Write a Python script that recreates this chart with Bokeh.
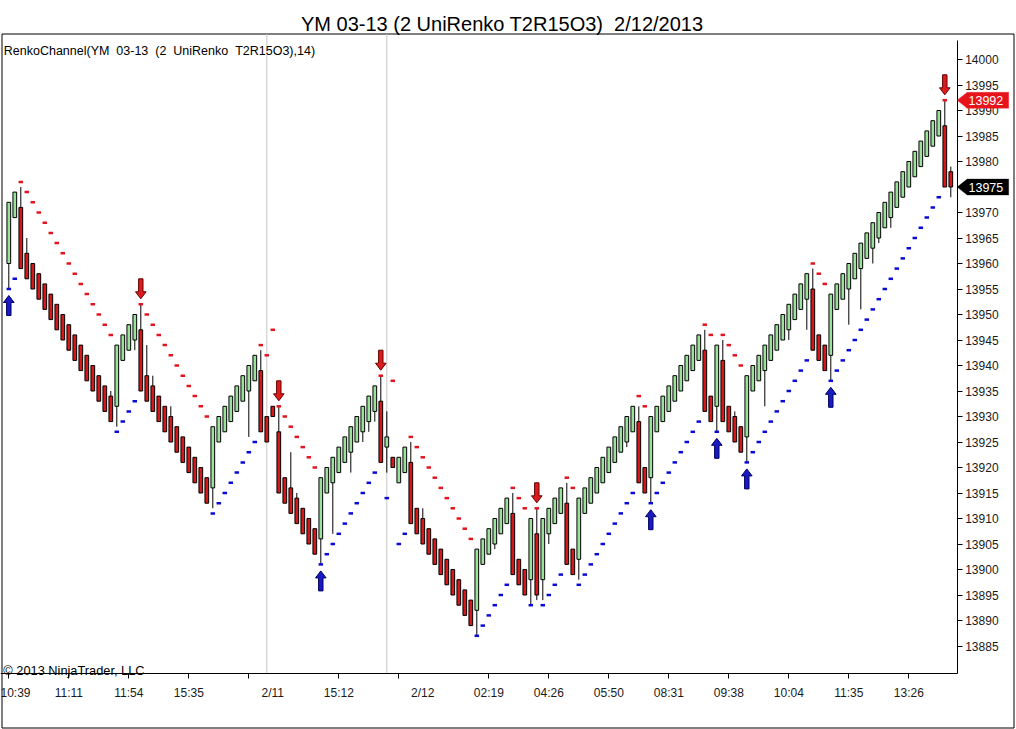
from bokeh.plotting import figure
from bokeh.models import Range1d, FixedTicker, Label, PolyAnnotation
from bokeh.embed import file_html
from bokeh.resources import INLINE

# ---------------- data ----------------
title_text = "YM 03-13 (2 UniRenko T2R15O3)\u00a0\u00a02/12/2013"
indicator_text = "RenkoChannel(YM\u00a0\u00a003-13\u00a0\u00a0(2\u00a0\u00a0UniRenko\u00a0\u00a0T2R15O3),14)"
copyright_text = "\u00a9 2013 NinjaTrader, LLC"

bar_open = [
    13960, 13969, 13971, 13962, 13960, 13958, 13956, 13954, 13952, 13950,
    13948, 13946, 13944, 13942, 13940, 13938, 13936, 13934, 13932, 13941,
    13943, 13945, 13947, 13938, 13936, 13934, 13932, 13930, 13928, 13926,
    13924, 13922, 13920, 13918, 13916, 13925, 13927, 13929, 13931, 13933,
    13935, 13937, 13939, 13930, 13932, 13927, 13918, 13916, 13914, 13912,
    13910, 13908, 13906, 13915, 13917, 13919, 13921, 13923, 13925, 13927,
    13929, 13931, 13933, 13924, 13922, 13917, 13919, 13921, 13912, 13910,
    13908, 13906, 13904, 13902, 13900, 13898, 13896, 13894, 13892, 13901,
    13903, 13905, 13907, 13909, 13911, 13902, 13900, 13898, 13907, 13898,
    13907, 13909, 13911, 13913, 13904, 13902, 13911, 13913, 13915, 13917,
    13919, 13921, 13923, 13925, 13927, 13929, 13920, 13918, 13927, 13929,
    13931, 13933, 13935, 13937, 13939, 13941, 13943, 13934, 13932, 13941,
    13932, 13930, 13928, 13926, 13935, 13937, 13939, 13941, 13943, 13945,
    13947, 13949, 13951, 13953, 13955, 13946, 13944, 13942, 13951, 13953,
    13955, 13957, 13959, 13961, 13963, 13965, 13967, 13969, 13971, 13973,
    13975, 13977, 13979, 13981, 13983, 13985, 13987, 13978,
]
bar_close = [
    13972, 13974, 13959, 13957, 13955, 13953, 13951, 13949, 13947, 13945,
    13943, 13941, 13939, 13937, 13935, 13933, 13931, 13929, 13944, 13946,
    13948, 13950, 13935, 13933, 13931, 13929, 13927, 13925, 13923, 13921,
    13919, 13917, 13915, 13913, 13928, 13930, 13932, 13934, 13936, 13938,
    13940, 13942, 13927, 13925, 13930, 13915, 13913, 13911, 13909, 13907,
    13905, 13903, 13918, 13920, 13922, 13924, 13926, 13928, 13930, 13932,
    13934, 13936, 13921, 13926, 13920, 13922, 13924, 13909, 13907, 13905,
    13903, 13901, 13899, 13897, 13895, 13893, 13891, 13889, 13904, 13906,
    13908, 13910, 13912, 13914, 13899, 13897, 13895, 13910, 13895, 13910,
    13912, 13914, 13916, 13901, 13899, 13914, 13916, 13918, 13920, 13922,
    13924, 13926, 13928, 13930, 13932, 13917, 13915, 13930, 13932, 13934,
    13936, 13938, 13940, 13942, 13944, 13946, 13931, 13929, 13944, 13929,
    13927, 13925, 13923, 13938, 13940, 13942, 13944, 13946, 13948, 13950,
    13952, 13954, 13956, 13958, 13943, 13941, 13939, 13954, 13956, 13958,
    13960, 13962, 13964, 13966, 13968, 13970, 13972, 13974, 13976, 13978,
    13980, 13982, 13984, 13986, 13988, 13990, 13975, 13975,
]
bar_high = [
    13972, 13974, 13975, 13965, 13960, 13958, 13956, 13954, 13952, 13950,
    13948, 13946, 13944, 13942, 13940, 13938, 13936, 13935, 13944, 13946,
    13948, 13950, 13952, 13944, 13938, 13934, 13932, 13932, 13928, 13926,
    13924, 13922, 13920, 13918, 13928, 13930, 13932, 13934, 13936, 13938,
    13940, 13942, 13943, 13930, 13932, 13932, 13918, 13923, 13915, 13912,
    13910, 13908, 13918, 13920, 13922, 13924, 13926, 13928, 13930, 13932,
    13934, 13936, 13938, 13931, 13922, 13922, 13924, 13925, 13912, 13912,
    13908, 13906, 13904, 13902, 13900, 13898, 13896, 13894, 13904, 13906,
    13908, 13910, 13912, 13914, 13915, 13902, 13900, 13910, 13912, 13910,
    13912, 13914, 13916, 13917, 13904, 13914, 13916, 13918, 13920, 13922,
    13924, 13926, 13928, 13930, 13932, 13932, 13920, 13930, 13932, 13934,
    13936, 13938, 13940, 13942, 13944, 13946, 13947, 13934, 13944, 13945,
    13932, 13931, 13928, 13938, 13940, 13942, 13944, 13946, 13948, 13950,
    13952, 13954, 13956, 13958, 13959, 13946, 13944, 13954, 13956, 13958,
    13960, 13962, 13964, 13966, 13968, 13970, 13972, 13974, 13976, 13978,
    13980, 13982, 13984, 13986, 13988, 13990, 13992, 13979,
]
bar_low = [
    13955, 13969, 13959, 13957, 13955, 13953, 13951, 13949, 13947, 13945,
    13943, 13941, 13939, 13937, 13935, 13933, 13931, 13929, 13928, 13941,
    13943, 13943, 13935, 13933, 13931, 13929, 13927, 13925, 13923, 13921,
    13919, 13917, 13915, 13913, 13912, 13925, 13927, 13929, 13931, 13933,
    13926, 13937, 13927, 13925, 13930, 13915, 13913, 13911, 13909, 13907,
    13905, 13903, 13901, 13915, 13907, 13919, 13921, 13919, 13925, 13925,
    13927, 13929, 13921, 13919, 13920, 13917, 13919, 13909, 13907, 13905,
    13903, 13901, 13899, 13897, 13895, 13893, 13891, 13889, 13887, 13901,
    13903, 13904, 13907, 13909, 13899, 13897, 13895, 13893, 13894, 13894,
    13905, 13909, 13911, 13901, 13899, 13898, 13911, 13913, 13915, 13917,
    13919, 13921, 13923, 13924, 13927, 13917, 13915, 13913, 13927, 13929,
    13931, 13933, 13935, 13937, 13939, 13941, 13931, 13929, 13927, 13929,
    13927, 13925, 13923, 13921, 13935, 13937, 13932, 13941, 13943, 13945,
    13945, 13949, 13951, 13947, 13943, 13941, 13939, 13937, 13951, 13953,
    13948, 13957, 13951, 13961, 13960, 13964, 13967, 13967, 13971, 13973,
    13975, 13977, 13979, 13981, 13983, 13985, 13975, 13973,
]
# RenkoChannel dots: value and side (U = upper/red, L = lower/blue), bars 1..157
channel_value = [
    13955, 13957, 13976, 13974, 13972, 13970, 13968, 13966, 13964, 13962,
    13960, 13958, 13956, 13954, 13952, 13950, 13948, 13946, 13927, 13929,
    13931, 13933, 13952, 13950, 13948, 13946, 13944, 13942, 13940, 13938,
    13936, 13934, 13932, 13930, 13911, 13913, 13915, 13917, 13919, 13921,
    13923, 13925, 13944, 13942, 13947, 13932, 13930, 13928, 13926, 13924,
    13922, 13920, 13901, 13903, 13905, 13907, 13909, 13911, 13913, 13915,
    13917, 13919, 13938, 13914, 13937, 13905, 13907, 13926, 13924, 13922,
    13920, 13918, 13916, 13914, 13912, 13910, 13908, 13906, 13887, 13889,
    13891, 13893, 13895, 13897, 13916, 13914, 13912, 13893, 13912, 13893,
    13895, 13897, 13899, 13918, 13916, 13897, 13899, 13901, 13903, 13905,
    13907, 13909, 13911, 13913, 13915, 13934, 13932, 13913, 13915, 13917,
    13919, 13921, 13923, 13925, 13927, 13929, 13948, 13946, 13927, 13946,
    13944, 13942, 13940, 13921, 13923, 13925, 13927, 13929, 13931, 13933,
    13935, 13937, 13939, 13941, 13960, 13958, 13956, 13937, 13939, 13941,
    13943, 13945, 13947, 13949, 13951, 13953, 13955, 13957, 13959, 13961,
    13963, 13965, 13967, 13969, 13971, 13973, 13992,
]
channel_side = [
    "L", "L", "U", "U", "U", "U", "U", "U", "U", "U",
    "U", "U", "U", "U", "U", "U", "U", "U", "L", "L",
    "L", "L", "U", "U", "U", "U", "U", "U", "U", "U",
    "U", "U", "U", "U", "L", "L", "L", "L", "L", "L",
    "L", "L", "U", "U", "U", "U", "U", "U", "U", "U",
    "U", "U", "L", "L", "L", "L", "L", "L", "L", "L",
    "L", "L", "U", "L", "U", "L", "L", "U", "U", "U",
    "U", "U", "U", "U", "U", "U", "U", "U", "L", "L",
    "L", "L", "L", "L", "U", "U", "U", "L", "U", "L",
    "L", "L", "L", "U", "U", "L", "L", "L", "L", "L",
    "L", "L", "L", "L", "L", "U", "U", "L", "L", "L",
    "L", "L", "L", "L", "L", "L", "U", "U", "L", "U",
    "U", "U", "U", "L", "L", "L", "L", "L", "L", "L",
    "L", "L", "L", "L", "U", "U", "U", "L", "L", "L",
    "L", "L", "L", "L", "L", "L", "L", "L", "L", "L",
    "L", "L", "L", "L", "L", "L", "U",
]
arrow_up_bars = [1, 53, 108, 119, 124, 138]
arrow_down_bars = [23, 46, 63, 89, 157]
session_break_bars = [44, 64]
tick_mark_bars = [1, 11, 21, 31, 41, 56, 66, 81, 91, 101, 111, 121, 131, 141, 151]
axis_label_bars = [1, 11, 21, 31, 45, 56, 70, 81, 91, 101, 111, 121, 131, 141, 151]
axis_labels = ["10:39", "11:11", "11:54", "15:35", "2/11", "15:12", "2/12", "02:19",
               "04:26", "05:50", "08:31", "09:38", "10:04", "11:35", "13:26"]
price_ticks = [13885, 13890, 13895, 13900, 13905, 13910, 13915, 13920, 13925, 13930,
               13935, 13940, 13945, 13950, 13955, 13960, 13965, 13970, 13975, 13980,
               13985, 13990, 13995, 14000]
marker_prices = [13992, 13975]
marker_colors = ["#e8141c", "#000000"]

# ---------------- layout (pixels) ----------------
FONT = "Liberation Sans"
W, H = 1016, 729
BAR_PX = 6.0                       # pixels per bar
PT_PX = 5.1                        # pixels per price point
X0 = 1 - 8.3 / BAR_PX              # left edge of the canvas, in bars
X1 = X0 + W / BAR_PX
Y1 = 14000 + 59 / PT_PX            # top edge of the canvas, in points
Y0 = Y1 - H / PT_PX
bpx, ppx = 1.0 / BAR_PX, 1.0 / PT_PX


def cx(px):  # canvas x pixel -> bars
    return X0 + px * bpx


def cy(px):  # canvas y pixel -> points
    return Y1 - px * ppx


AXIS_X = cx(956.7)        # price axis position
AXIS_Y = cy(673.0)        # time axis position
AXIS_TOP = cy(40.0)

UP_FILL, DN_FILL = "#9ae29a", "#d81818"
UPPER_DOT, LOWER_DOT = "#e3141e", "#0a0ad6"

p = figure(width=W, height=H, x_range=Range1d(X0, X1), y_range=Range1d(Y0, Y1),
           output_backend="svg", toolbar_location=None, title=None,
           y_axis_location="right",
           min_border_left=0, min_border_right=0, min_border_top=0, min_border_bottom=0,
           background_fill_color="white", border_fill_color="white",
           outline_line_color=None)
p.xgrid.visible = False
p.ygrid.visible = False

# outer chart border and session separators
bl, br, bt, bb = cx(1.5), cx(1013.5), cy(33.5), cy(727.5)
p.multi_line(xs=[[bl, br, br, bl, bl]], ys=[[bt, bt, bb, bb, bt]],
             line_color="black", line_width=1)
p.segment(x0=session_break_bars, y0=[bt] * len(session_break_bars),
          x1=session_break_bars, y1=[AXIS_Y] * len(session_break_bars),
          line_color="#c6c6c6", line_width=1)

xs = list(range(1, len(bar_open) + 1))
tops = [max(o, c) for o, c in zip(bar_open, bar_close)]
bots = [min(o, c) for o, c in zip(bar_open, bar_close)]
fills = [UP_FILL if c > o else DN_FILL for o, c in zip(bar_open, bar_close)]

p.segment(x0=xs, y0=bar_low, x1=xs, y1=bar_high, line_color="black", line_width=1)
p.vbar(x=xs, width=0.62, top=tops, bottom=bots, fill_color=fills,
       line_color="black", line_width=1)

chx = list(range(1, len(channel_value) + 1))
p.rect(x=chx, y=channel_value, width=4.5, height=2.5,
       width_units="screen", height_units="screen",
       fill_color=[UPPER_DOT if s == "U" else LOWER_DOT for s in channel_side],
       line_color=None)

# signal arrows (shape in pixels, placed at the channel dot of the bar)
shape = [(0, 0), (5.3, 7), (2.2, 7), (2.2, 20), (-2.2, 20), (-2.2, 7), (-5.3, 7)]
ax, ay = [], []
for b in arrow_up_bars:
    tip = channel_value[b - 1] - 6.5 * ppx
    ax.append([b + dx * bpx for dx, dy in shape])
    ay.append([tip - dy * ppx for dx, dy in shape])
p.patches(ax, ay, fill_color="#1a1ac4", line_color="#00005c", line_width=1)
ax, ay = [], []
for b in arrow_down_bars:
    tip = channel_value[b - 1] + 5.5 * ppx
    ax.append([b + dx * bpx for dx, dy in shape])
    ay.append([tip + dy * ppx for dx, dy in shape])
p.patches(ax, ay, fill_color="#dc1c1c", line_color="#640000", line_width=1)

# price axis
yax = p.yaxis[0]
yax.fixed_location = AXIS_X
yax.bounds = (AXIS_Y, AXIS_TOP)
yax.ticker = FixedTicker(ticks=price_ticks)
yax.major_tick_in = 0
yax.major_tick_out = 5
yax.minor_tick_line_color = None
yax.axis_line_color = "black"
yax.major_tick_line_color = "black"
yax.major_label_standoff = 3
yax.major_label_text_font = FONT
yax.major_label_text_font_size = "12px"
yax.major_label_text_color = "#1a1a1a"

# time axis
xax = p.xaxis[0]
xax.fixed_location = AXIS_Y
xax.bounds = (X0, AXIS_X)
xax.ticker = FixedTicker(ticks=axis_label_bars, minor_ticks=tick_mark_bars)
xax.major_label_overrides = {b: t for b, t in zip(axis_label_bars, axis_labels)}
xax.major_tick_in = 0
xax.major_tick_out = 0
xax.major_tick_line_color = None
xax.minor_tick_in = 0
xax.minor_tick_out = 5
xax.minor_tick_line_color = "black"
xax.axis_line_color = "black"
xax.major_label_standoff = 7
xax.major_label_text_font = FONT
xax.major_label_text_font_size = "12px"
xax.major_label_text_color = "#1a1a1a"

# texts (screen units: from the bottom-left corner of the canvas)
p.add_layout(Label(x=300.5, y=H - 23.3, x_units="screen", y_units="screen",
                   text=title_text, text_font=FONT, text_font_size="20px",
                   text_color="black", text_baseline="alphabetic"))
p.add_layout(Label(x=3.3, y=H - 50.0, x_units="screen", y_units="screen",
                   text=indicator_text, text_font=FONT, text_font_size="12.5px",
                   text_color="black", text_baseline="alphabetic"))
p.add_layout(Label(x=2.8, y=H - 669.5, x_units="screen", y_units="screen",
                   text=copyright_text, text_font=FONT, text_font_size="12.8px",
                   text_color="black", text_baseline="alphabetic"))

# channel / last-price markers on the price axis
for v, col in zip(marker_prices, marker_colors):
    h = 8.0 * ppx
    p.add_layout(PolyAnnotation(
        xs=[AXIS_X, AXIS_X + 10 * bpx, AXIS_X + 51.5 * bpx, AXIS_X + 51.5 * bpx, AXIS_X + 10 * bpx],
        ys=[v, v + h, v + h, v - h, v - h],
        fill_color=col, fill_alpha=1.0, line_color=col))
    p.add_layout(Label(x=AXIS_X + 11.3 * bpx, y=v, text=str(v),
                       text_font=FONT, text_font_size="12.5px", text_color="white",
                       text_baseline="middle"))

open("out.html", "w").write(file_html(p, INLINE))
